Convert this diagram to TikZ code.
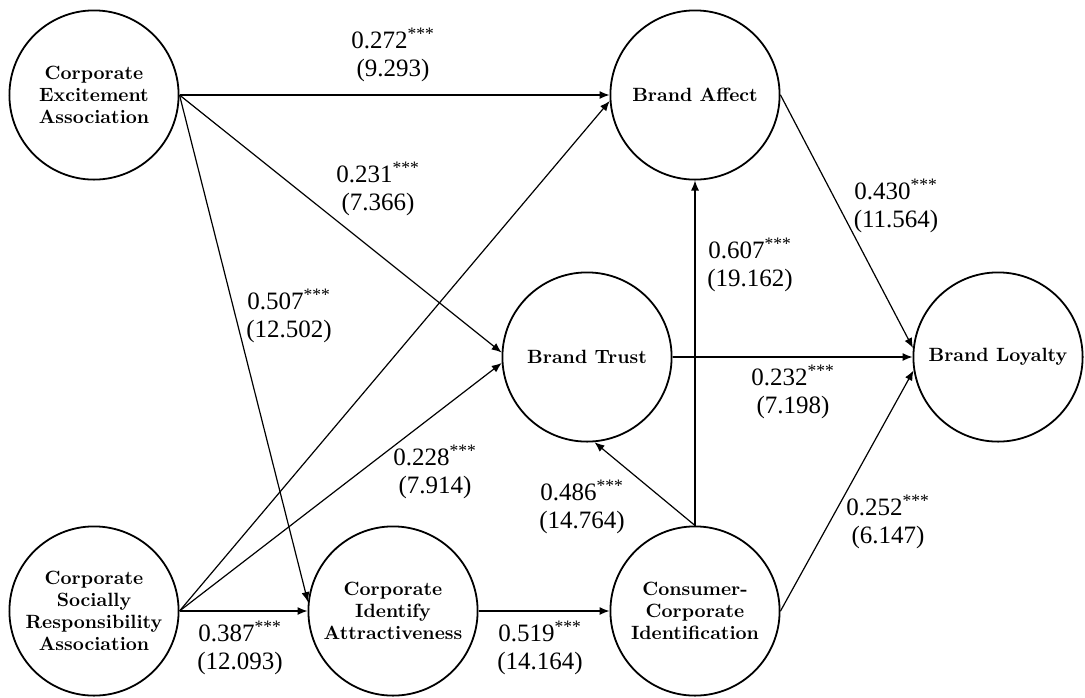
\documentclass[tikz,border=0pt]{standalone}
\usepackage{fontspec}
\newfontfamily\numfont{Liberation Serif}
\usetikzlibrary{arrows.meta}

\begin{document}
\begin{tikzpicture}[x=0.5pt, y=-0.5pt,
		construct/.style={circle, draw, line width=0.9pt, minimum size=84.6pt, inner sep=0pt,
			align=center, font=\fontsize{9.6}{11}\selectfont\bfseries},
		effect/.style={-{Latex[length=5pt, width=4pt]}, line width=0.6pt},
		coef/.style={align=center, font=\numfont\fontsize{12.5}{14}\selectfont}]
	% frame
	\useasboundingbox (0,0) rectangle (1085,697);
	
	% constructs
	\node[construct] (cea)  at (94,95)   {Corporate\\Excitement\\Association};
	\node[construct] (csra) at (94,611)  {Corporate\\Socially\\Responsibility\\Association};
	\node[construct] (cia)  at (393,611) {Corporate\\Identify\\Attractiveness};
	\node[construct] (cci)  at (695,611) {Consumer-\\Corporate\\Identification};
	\node[construct] (ba)   at (695,95)  {Brand Affect};
	\node[construct] (bt)   at (587,357) {Brand Trust};
	\node[construct] (bl)   at (998,357) {Brand Loyalty};
	
	% paths
	\draw[effect] (cea.east)  -- (ba.west);
	\draw[effect] (cea.east)  -- (bt.177);
	\draw[effect] (cea.east)  -- (cia.174);
	\draw[effect] (csra.east) -- (ba.184);
	\draw[effect] (csra.east) -- (bt.184);
	\draw[effect] (csra.east) -- (cia.west);
	\draw[effect] (cia.east)  -- (cci.west);
	\draw[effect] (cci.north) -- (ba.south);
	\draw[effect] (cci.north) -- (bt.-85);
	\draw[effect] (cci.east)  -- (bl.189);
	\draw[effect] (bt.east)   -- (bl.west);
	\draw[effect] (ba.east)   -- (bl.174);
	
	% coefficients
	\node[coef] (c272) at (393,55)  {0.272\textsuperscript{***}\\(9.293)};
	\node[coef] (c231) at (378,189) {0.231\textsuperscript{***}\\(7.366)};
	\node[coef] (c507) at (289,316) {0.507\textsuperscript{***}\\(12.502)};
	\node[coef] (c228) at (435,472) {0.228\textsuperscript{***}\\(7.914)};
	\node[coef] (c387) at (240,648) {0.387\textsuperscript{***}\\(12.093)};
	\node[coef] (c519) at (540,648) {0.519\textsuperscript{***}\\(14.164)};
	\node[coef] (c486) at (582,507) {0.486\textsuperscript{***}\\(14.764)};
	\node[coef] (c607) at (750,265) {0.607\textsuperscript{***}\\(19.162)};
	\node[coef] (c430) at (896,206) {0.430\textsuperscript{***}\\(11.564)};
	\node[coef] (c232) at (793,392) {0.232\textsuperscript{***}\\(7.198)};
	\node[coef] (c252) at (888,522) {0.252\textsuperscript{***}\\(6.147)};
\end{tikzpicture}
\end{document}
